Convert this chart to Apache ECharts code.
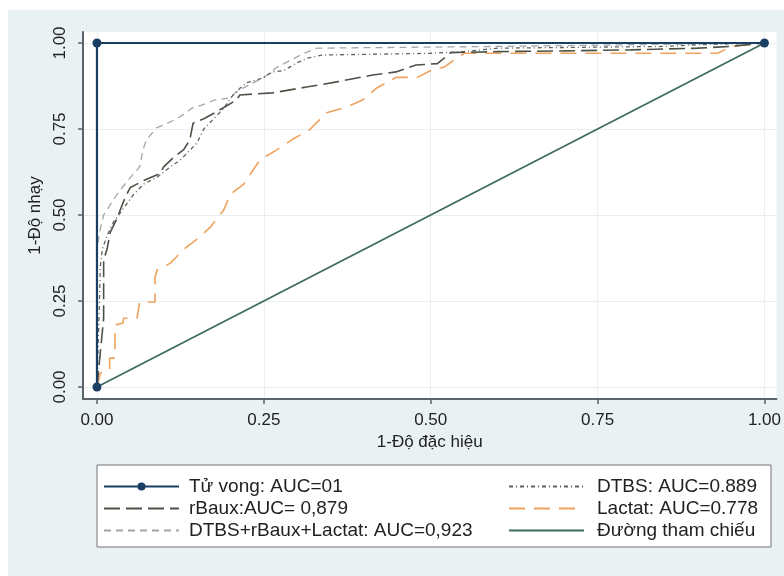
<!DOCTYPE html>
<html>
<head>
<meta charset="utf-8">
<script src="https://cdn.jsdelivr.net/npm/echarts@6/dist/echarts.min.js"></script>
<style>
html,body{margin:0;padding:0;background:#ffffff;}
#chart{width:784px;height:576px;}
</style>
</head>
<body>
<div id="chart"></div>
<script>
// ---- data ----
const tickValues = [0, 0.25, 0.5, 0.75, 1];
const xAxisTitle = '1-Độ đặc hiệu';
const yAxisTitle = '1-Độ nhạy';

const seriesNames = [
  'Tử vong: AUC=01',
  'rBaux:AUC= 0,879',
  'DTBS+rBaux+Lactat: AUC=0,923',
  'DTBS: AUC=0.889',
  'Lactat: AUC=0.778',
  'Đường tham chiếu'
];

const tuVongX = [0, 0, 1];
const tuVongY = [0, 1, 1];

const rBauxX = [0, 0.005, 0.01, 0.01, 0.015, 0.02, 0.03, 0.042, 0.05, 0.07, 0.094, 0.10, 0.114, 0.13, 0.139, 0.144, 0.16, 0.179, 0.209, 0.214, 0.263, 0.314, 0.359, 0.413, 0.448, 0.478, 0.51, 0.53, 0.60, 0.70, 0.80, 0.90, 0.95, 1];
const rBauxY = [0, 0.10, 0.20, 0.37, 0.40, 0.45, 0.49, 0.55, 0.58, 0.60, 0.62, 0.64, 0.666, 0.69, 0.718, 0.767, 0.78, 0.80, 0.834, 0.849, 0.855, 0.872, 0.887, 0.907, 0.916, 0.936, 0.94, 0.972, 0.975, 0.977, 0.98, 0.985, 0.99, 1];

const comboX = [0, 0, 0.005, 0.01, 0.02, 0.03, 0.046, 0.064, 0.069, 0.074, 0.089, 0.109, 0.124, 0.142, 0.158, 0.176, 0.198, 0.21, 0.23, 0.25, 0.27, 0.29, 0.31, 0.33, 0.60, 1];
const comboY = [0, 0.40, 0.46, 0.50, 0.53, 0.56, 0.60, 0.64, 0.69, 0.718, 0.753, 0.77, 0.785, 0.81, 0.82, 0.834, 0.84, 0.86, 0.88, 0.90, 0.93, 0.95, 0.97, 0.985, 0.99, 1];

const dtbsX = [0, 0.003, 0.005, 0.008, 0.015, 0.025, 0.04, 0.055, 0.07, 0.09, 0.11, 0.125, 0.14, 0.15, 0.16, 0.175, 0.19, 0.20, 0.215, 0.224, 0.248, 0.263, 0.28, 0.299, 0.316, 0.338, 0.50, 0.55, 0.60, 0.85, 0.90, 1];
const dtbsY = [0, 0.20, 0.35, 0.40, 0.44, 0.48, 0.52, 0.56, 0.59, 0.61, 0.64, 0.66, 0.69, 0.71, 0.75, 0.78, 0.81, 0.84, 0.87, 0.884, 0.898, 0.916, 0.92, 0.942, 0.956, 0.965, 0.97, 0.975, 0.985, 0.99, 0.995, 1];

const lactatX = [0, 0.005, 0.019, 0.019, 0.027, 0.027, 0.039, 0.04, 0.06, 0.064, 0.087, 0.087, 0.09, 0.11, 0.13, 0.15, 0.17, 0.19, 0.20, 0.22, 0.244, 0.27, 0.293, 0.318, 0.344, 0.374, 0.398, 0.419, 0.448, 0.48, 0.50, 0.52, 0.55, 0.93, 0.95, 1];
const lactatY = [0, 0.04, 0.05, 0.084, 0.084, 0.18, 0.186, 0.20, 0.20, 0.247, 0.247, 0.32, 0.34, 0.36, 0.40, 0.43, 0.465, 0.515, 0.56, 0.59, 0.66, 0.69, 0.72, 0.747, 0.797, 0.814, 0.834, 0.869, 0.90, 0.90, 0.92, 0.93, 0.97, 0.97, 0.99, 1];

const refX = [0, 1];
const refY = [0, 1];

function pairs(xs, ys) { return xs.map((x, i) => [x, ys[i]]); }

// ---- chart ----
const chart = echarts.init(document.getElementById('chart'), null, {renderer: 'canvas'});
const FONT = 'Liberation Sans';
const axisColor = '#59636a';

function lineSeries(name, xs, ys, color, width, type, z, extra) {
  return Object.assign({
    name: name,
    type: 'line',
    data: pairs(xs, ys),
    symbol: 'none',
    showSymbol: false,
    lineStyle: {color: color, width: width, type: type},
    itemStyle: {color: color},
    z: z,
    animation: false
  }, extra || {});
}

const legendText = {fontFamily: FONT, fontSize: 19, color: '#222'};
const noSym = {opacity: 0};

const option = {
  animation: false,
  graphic: [
    {type: 'rect', shape: {x: 8, y: 10, width: 776, height: 566}, style: {fill: '#eaf1f3'}, z: -10, silent: true},
    {type: 'rect', shape: {x: 97, y: 465, width: 674, height: 82}, style: {fill: '#ffffff', stroke: '#6f7579', lineWidth: 1}, z: -5, silent: true}
  ],
  grid: {
    left: 83, top: 32, right: 6, bottom: 177,
    show: true, backgroundColor: '#ffffff', borderWidth: 0
  },
  xAxis: {
    type: 'value',
    min: -0.020927, max: 1.01794,
    name: xAxisTitle,
    nameLocation: 'middle',
    nameGap: 30,
    nameTextStyle: {fontFamily: FONT, fontSize: 17, color: '#222'},
    axisLine: {show: true, onZero: false, lineStyle: {color: axisColor, width: 2}},
    axisTick: {show: true, length: 5, customValues: tickValues, lineStyle: {color: axisColor, width: 1.5}},
    axisLabel: {customValues: tickValues, margin: 13, fontFamily: FONT, fontSize: 17, color: '#222',
      formatter: v => v.toFixed(2)},
    splitLine: {show: true, lineStyle: {color: '#e9eff1', width: 1}}
  },
  yAxis: {
    type: 'value',
    min: -0.034884, max: 1.03198,
    name: yAxisTitle,
    nameLocation: 'middle',
    nameGap: 37,
    nameRotate: 90,
    nameTextStyle: {fontFamily: FONT, fontSize: 17, color: '#222'},
    axisLine: {show: true, onZero: false, lineStyle: {color: axisColor, width: 2}},
    axisTick: {show: true, length: 5, customValues: tickValues, lineStyle: {color: axisColor, width: 1.5}},
    axisLabel: {customValues: tickValues, margin: 14, rotate: 90, fontFamily: FONT, fontSize: 17, color: '#222',
      formatter: v => v.toFixed(2)},
    splitLine: {show: true, lineStyle: {color: '#e9eff1', width: 1}}
  },
  legend: [
    {
      orient: 'vertical', left: 98, top: 472,
      itemWidth: 75, itemHeight: 10, itemGap: 3,
      textStyle: Object.assign({}, legendText, {padding: [0, 0, 0, 5]}),
      data: [
        {name: seriesNames[0]},
        {name: seriesNames[1], itemStyle: noSym},
        {name: seriesNames[2], itemStyle: noSym}
      ]
    },
    {
      orient: 'vertical', left: 503, top: 472,
      itemWidth: 75, itemHeight: 10, itemGap: 3,
      textStyle: Object.assign({}, legendText, {padding: [0, 0, 0, 8]}),
      data: [
        {name: seriesNames[3], itemStyle: noSym},
        {name: seriesNames[4], itemStyle: noSym},
        {name: seriesNames[5], itemStyle: noSym}
      ]
    }
  ],
  series: [
    lineSeries(seriesNames[5], refX, refY, '#3e6c5c', 1.8, 'solid', 2),
    lineSeries(seriesNames[4], lactatX, lactatY, '#efa35e', 1.6, [16, 9], 3),
    lineSeries(seriesNames[2], comboX, comboY, '#a2a7aa', 1.3, [7, 5], 4),
    lineSeries(seriesNames[3], dtbsX, dtbsY, '#5c6262', 1.3, [4, 3, 1, 3], 5),
    lineSeries(seriesNames[1], rBauxX, rBauxY, '#4c5346', 1.6, [16, 6], 6),
    lineSeries(seriesNames[0], tuVongX, tuVongY, '#1b3e64', 2.2, 'solid', 8,
      {symbol: 'circle', showSymbol: true, symbolSize: 9})
  ]
};
chart.setOption(option);
</script>
</body>
</html>
